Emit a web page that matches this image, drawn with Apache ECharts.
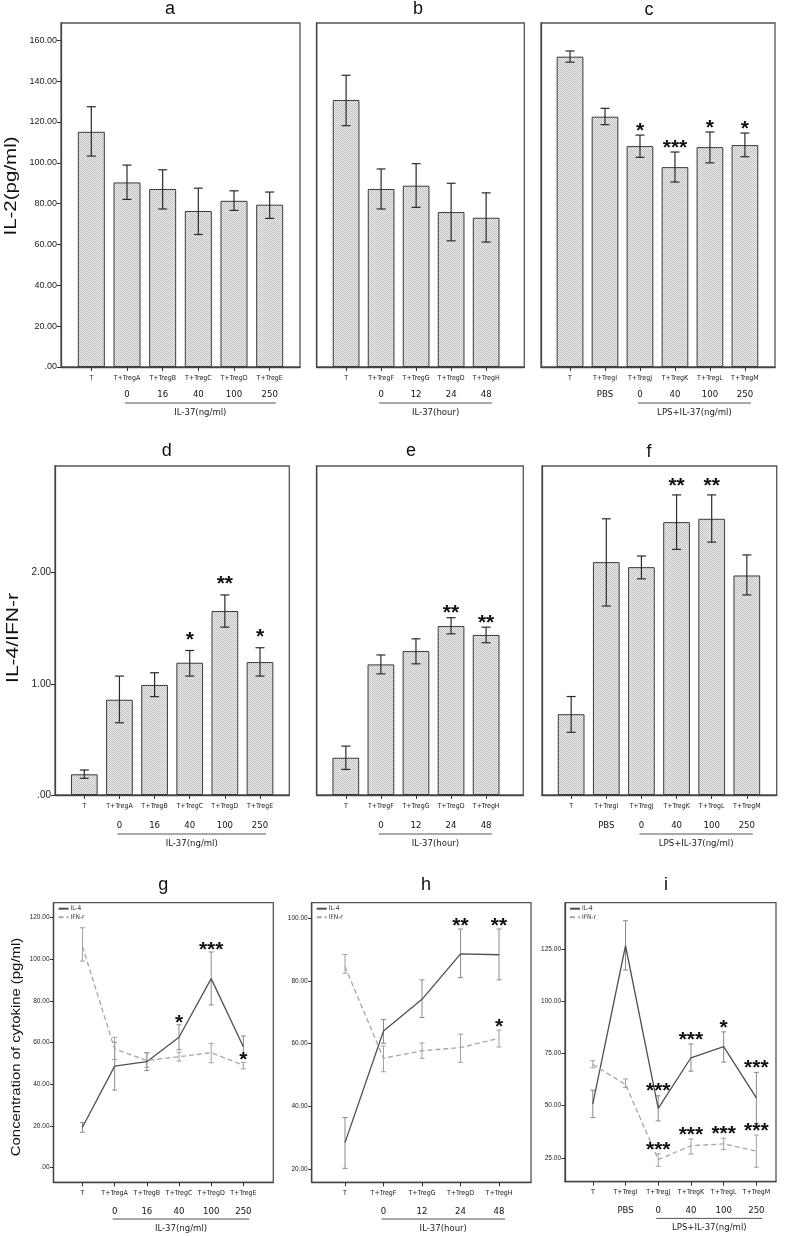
<!DOCTYPE html>
<html><head><meta charset="utf-8">
<script src="https://cdn.jsdelivr.net/npm/echarts@6/dist/echarts.min.js"></script>
<style>html,body{margin:0;padding:0;background:#fff}#c{width:787px;height:1236px}</style>
</head><body><div id="c"></div>
<script>
// ================= DATA =================
const catsAD = ['T','T+TregA','T+TregB','T+TregC','T+TregD','T+TregE'];
const subAD = ['','0','16','40','100','250'];
const catsBE = ['T','T+TregF','T+TregG','T+TregD','T+TregH'];
const subBE = ['','0','12','24','48'];
const catsCF = ['T','T+TregI','T+TregJ','T+TregK','T+TregL','T+TregM'];
const subCF = ['','PBS','0','40','100','250'];
const groupNg = 'IL-37(ng/ml)';
const groupHour = 'IL-37(hour)';
const groupLps = 'LPS+IL-37(ng/ml)';

// a: IL-2 (pg/ml)
const aMean = [115.2, 90.4, 87.2, 76.4, 81.4, 79.5];
const aHi   = [127.5, 98.9, 96.6, 87.6, 86.3, 85.7];
const aLo   = [103.3, 82.1, 77.4, 64.9, 76.7, 72.8];
const aSig  = ['','','','','',''];
// b
const bMean = [130.8, 87.2, 88.8, 75.9, 73.1];
const bHi   = [142.9, 97.0, 99.6, 90.0, 85.3];
const bLo   = [118.2, 77.4, 78.2, 61.8, 61.2];
const bSig  = ['','','','',''];
// c
const cMean = [152.0, 122.6, 108.2, 97.9, 107.7, 108.7];
const cHi   = [154.8, 126.7, 113.6, 105.3, 115.1, 114.6];
const cLo   = [149.3, 118.7, 102.7, 90.6, 100.0, 103.0];
const cSig  = ['','','*','***','*','*'];
// d: IL-4/IFN-r
const dMean = [0.186, 0.857, 0.99, 1.19, 1.655, 1.196];
const dHi   = [0.225, 1.07, 1.10, 1.30, 1.80, 1.325];
const dLo   = [0.15, 0.65, 0.885, 1.07, 1.51, 1.07];
const dSig  = ['','','','*','**','*'];
// e
const eMean = [0.335, 1.175, 1.295, 1.52, 1.44];
const eHi   = [0.44, 1.26, 1.405, 1.595, 1.51];
const eLo   = [0.23, 1.09, 1.18, 1.45, 1.37];
const eSig  = ['','','','**','**'];
// f
const fMean = [0.727, 2.095, 2.05, 2.455, 2.485, 1.975];
const fHi   = [0.886, 2.485, 2.15, 2.70, 2.70, 2.16];
const fLo   = [0.564, 1.70, 1.945, 2.21, 2.275, 1.80];
const fSig  = ['','','','**','**',''];
// g: cytokines
const gIL4   = [19.4, 48.7, 50.8, 62.5, 90.6, 58.0];
const gIL4Hi = [21.6, 60.1, 55.1, 68.5, 103.4, 63.1];
const gIL4Lo = [17.0, 37.2, 46.5, 56.5, 78.0, 52.9];
const gIL4Sig = ['','','','*','***',''];
const gIFN   = [106.0, 56.9, 51.4, 53.2, 55.1, 49.1];
const gIFNHi = [115.0, 62.5, 55.0, 55.3, 59.6, 50.5];
const gIFNLo = [99.0, 51.9, 48.1, 51.1, 50.3, 47.4];
const gIFNSig = ['','','','','','*'];
// h
const hIL4   = [28.4, 64.0, 74.1, 88.6, 88.3];
const hIL4Hi = [36.4, 67.7, 80.3, 96.5, 96.5];
const hIL4Lo = [20.2, 60.1, 68.3, 81.0, 80.3];
const hIL4Sig = ['','','','**','**'];
const hIFN   = [84.5, 55.3, 57.7, 58.7, 61.7];
const hIFNHi = [88.4, 59.2, 60.2, 63.0, 64.3];
const hIFNLo = [82.4, 51.0, 55.3, 54.0, 58.9];
const hIFNSig = ['','','','','*'];
// i
const iIL4   = [50.8, 126.5, 48.7, 72.9, 78.2, 53.7];
const iIL4Hi = [57.4, 138.5, 54.7, 79.5, 85.3, 65.9];
const iIL4Lo = [44.3, 114.9, 42.7, 66.5, 70.8, 41.5];
const iIL4Sig = ['','','***','***','*','***'];
const iIFN   = [69.7, 60.1, 24.2, 30.8, 31.7, 28.2];
const iIFNHi = [71.5, 62.8, 26.9, 34.1, 34.4, 35.9];
const iIFNLo = [68.1, 58.7, 21.0, 26.8, 29.0, 20.5];
const iIFNSig = ['','','***','***','***','***'];

// tick labels
const ticksIL2 = [0,20,40,60,80,100,120,140,160];
const ticksRatio = [0,1,2];
const ticksG = [0,20,40,60,80,100,120];
const ticksH = [20,40,60,80,100];
const ticksI = [25,50,75,100,125];

// ================= STYLE / LAYOUT =================
const NARROW = "'Liberation Sans Narrow','DejaVu Sans Condensed','Arial Narrow',sans-serif";
const SANS = "'Liberation Sans',Arial,Helvetica,sans-serif";
const rows = {
  1:{lab:7.5, sub:23, ul:36, nm:45.5},
  2:{lab:8, sub:26, ul:39, nm:48.3},
  3:{lab:7, sub:24, ul:36.7, nm:46}
};
function pat(){
  const c=document.createElement('canvas'); c.width=2; c.height=2;
  const x=c.getContext('2d');
  x.fillStyle='#ececec'; x.fillRect(0,0,2,2);
  x.fillStyle='#c0c0c0'; x.fillRect(0,0,1,1); x.fillRect(1,1,1,1);
  return c;
}
const fill = {image: pat(), repeat:'repeat'};

const panels = [
  {type:'bar', cats:catsAD, sub:subAD, grp:groupNg, g0:1, g1:5, mean:aMean, hi:aHi, lo:aLo, sig:aSig,
   box:[61,23,239,344], xr:[-0.85,5.85], yr:[0,168.5], yt:ticksIL2, yfs:9, row:1, bw:27, sg:9.5},
  {type:'bar', cats:catsBE, sub:subBE, grp:groupHour, g0:1, g1:4, mean:bMean, hi:bHi, lo:bLo, sig:bSig,
   box:[316.7,23,207.6,344], xr:[-0.84,5.09], yr:[0,168.5], yt:null, row:1, bw:26.7, sg:9.5},
  {type:'bar', cats:catsCF, sub:subCF, grp:groupLps, g0:2, g1:5, mean:cMean, hi:cHi, lo:cLo, sig:cSig,
   box:[541,23,234,344], xr:[-0.83,5.86], yr:[0,168.5], yt:null, row:1, bw:26.7, sg:9.5},
  {type:'bar', cats:catsAD, sub:subAD, grp:groupNg, g0:1, g1:5, mean:dMean, hi:dHi, lo:dLo, sig:dSig,
   box:[55,466,234.3,329], xr:[-0.834,5.834], yr:[0,2.96], yt:ticksRatio, yfs:10, row:2, bw:26.7, sg:16.5},
  {type:'bar', cats:catsBE, sub:subBE, grp:groupHour, g0:1, g1:4, mean:eMean, hi:eHi, lo:eLo, sig:eSig,
   box:[316.7,466,206.6,329], xr:[-0.83,5.06], yr:[0,2.96], yt:null, row:2, bw:26.7, sg:10},
  {type:'bar', cats:catsCF, sub:subCF, grp:groupLps, g0:2, g1:5, mean:fMean, hi:fHi, lo:fLo, sig:fSig,
   box:[542,466,234.7,329], xr:[-0.83,5.85], yr:[0,2.96], yt:null, row:2, bw:26.7, sg:14.5},
  {type:'line', cats:catsAD, sub:subAD, grp:groupNg, g0:1, g1:5,
   s1:[gIL4,gIL4Hi,gIL4Lo,gIL4Sig], s2:[gIFN,gIFNHi,gIFNLo,gIFNSig],
   box:[53.5,902.7,219.8,279.6], xr:[-0.9,5.93], yr:[-7,127], yt:ticksG, yfs:6.5, row:3, sg:7.5},
  {type:'line', cats:catsBE, sub:subBE, grp:groupHour, g0:1, g1:4,
   s1:[hIL4,hIL4Hi,hIL4Lo,hIL4Sig], s2:[hIFN,hIFNHi,hIFNLo,hIFNSig],
   box:[311.7,902.7,219.3,279.6], xr:[-0.865,4.83], yr:[15.76,104.9], yt:ticksH, yfs:6.5, row:3, sg:8.5},
  {type:'line', cats:catsCF, sub:subCF, grp:groupLps, g0:2, g1:5,
   s1:[iIL4,iIL4Hi,iIL4Lo,iIL4Sig], s2:[iIFN,iIFNHi,iIFNLo,iIFNSig],
   box:[565,902.7,211,279], xr:[-0.85,5.6], yr:[13.6,147.1], yt:ticksI, yfs:6.5, row:3, sg:10}
];

function errRender(color, cap, lw){
  return function(params, api){
    const x = api.value(0);
    const a = api.coord([x, api.value(2)]);
    const b = api.coord([x, api.value(1)]);
    const st = {stroke:color, lineWidth:lw};
    return {type:'group', children:[
      {type:'line', shape:{x1:a[0],y1:a[1],x2:b[0],y2:b[1]}, style:st},
      {type:'line', shape:{x1:a[0]-cap/2,y1:a[1],x2:a[0]+cap/2,y2:a[1]}, style:st},
      {type:'line', shape:{x1:b[0]-cap/2,y1:b[1],x2:b[0]+cap/2,y2:b[1]}, style:st}
    ]};
  };
}
function sigRender(sig, gap, fs){
  return function(params, api){
    const s = sig[params.dataIndex];
    if(!s) return null;
    const p = api.coord([api.value(0), api.value(1)]);
    return {type:'text', x:p[0], y:p[1]-gap+0.28*fs,
      style:{text:s, textAlign:'center', textVerticalAlign:'middle',
        font:'bold '+fs+'px '+SANS, fill:'#111'}};
  };
}
function groupRender(name, row){
  const r = rows[row];
  return function(params, api){
    const cs = params.coordSys;
    const bottom = cs.y + cs.height;
    const x0 = api.coord([api.value(0), 0])[0] - 2;
    const x1 = api.coord([api.value(1), 0])[0] + 6;
    return {type:'group', children:[
      {type:'line', shape:{x1:x0,y1:bottom+r.ul,x2:x1,y2:bottom+r.ul}, style:{stroke:'#555', lineWidth:1}},
      {type:'text', x:(x0+x1)/2, y:bottom+r.nm,
        style:{text:name, textAlign:'center', textVerticalAlign:'middle', font:'9.5px '+NARROW, fill:'#222'}}
    ]};
  };
}
const yFmt = v => v === 0 ? '.00' : v.toFixed(2);

const grid=[], xAxis=[], yAxis=[], series=[], legend=[];
panels.forEach((p, k) => {
  const r = rows[p.row];
  const idx = p.cats.map((_, i) => i);
  const subIdx = p.sub.map((s, i) => s ? i : -1).filter(i => i >= 0);
  grid.push({left:p.box[0], top:p.box[1], width:p.box[2], height:p.box[3],
    show:true, borderColor:'#555', borderWidth:1.3, backgroundColor:'transparent'});
  xAxis.push({gridIndex:k, type:'value', min:p.xr[0], max:p.xr[1], position:'bottom',
    axisLine:{show:true, onZero:false, lineStyle:{color:'#444', width:1.3}},
    axisTick:{show:true, customValues:idx, length:4, lineStyle:{color:'#333', width:1}},
    axisLabel:{customValues:idx, formatter:v => p.cats[Math.round(v)], margin:r.lab,
      fontSize:7, fontFamily:NARROW, color:'#222'},
    splitLine:{show:false}});
  xAxis.push({gridIndex:k, type:'value', min:p.xr[0], max:p.xr[1], position:'bottom',
    axisLine:{show:false, onZero:false}, axisTick:{show:false},
    axisLabel:{customValues:subIdx, formatter:v => p.sub[Math.round(v)], margin:r.sub,
      fontSize:9.5, fontFamily:NARROW, color:'#111'},
    splitLine:{show:false}});
  const showY = !!p.yt;
  yAxis.push({gridIndex:k, type:'value', min:p.yr[0], max:p.yr[1], position:'left',
    axisLine:{show:true, onZero:false, lineStyle:{color:'#444', width:1.3}},
    axisTick:{show:showY, customValues:p.yt || [], length:p.type==='bar'?4:3.5, lineStyle:{color:'#333'}},
    axisLabel:{show:showY, customValues:p.yt || [], formatter:yFmt, margin:4,
      fontSize:p.yfs || 8, fontFamily:SANS, color:'#222'},
    splitLine:{show:false}});
  const xi = 2*k, yi = k;
  if (p.type === 'bar') {
    series.push({type:'bar', xAxisIndex:xi, yAxisIndex:yi, silent:true, barWidth:p.bw,
      data:p.mean.map((v,i) => [i, v]),
      itemStyle:{color:fill, borderColor:'#3a3a3a', borderWidth:1}});
    series.push({type:'custom', xAxisIndex:xi, yAxisIndex:yi, silent:true, z:5,
      renderItem:errRender('#2a2a2a', 9, 1.2),
      data:p.mean.map((v,i) => [i, p.lo[i], p.hi[i]])});
    series.push({type:'custom', xAxisIndex:xi, yAxisIndex:yi, silent:true, z:6,
      renderItem:sigRender(p.sig, p.sg, 21),
      data:p.mean.map((v,i) => [i, p.hi[i]])});
  } else {
    const defs = [
      {s:p.s1, name:'IL-4', ls:{color:'#505050', width:1.3, type:'solid'}, ec:'#8a8a8a'},
      {s:p.s2, name:'IFN-r', ls:{color:'#a6a6a6', width:1.3, type:[5,3]}, ec:'#a0a0a0'}
    ];
    defs.forEach(d => {
      series.push({type:'custom', xAxisIndex:xi, yAxisIndex:yi, silent:true, z:2,
        renderItem:errRender(d.ec, 5, 1),
        data:d.s[0].map((v,i) => [i, d.s[2][i], d.s[1][i]])});
      series.push({type:'line', name:d.name, xAxisIndex:xi, yAxisIndex:yi, silent:true, z:3,
        symbol:'none', lineStyle:d.ls, itemStyle:{color:d.ls.color},
        data:d.s[0].map((v,i) => [i, v])});
      series.push({type:'custom', xAxisIndex:xi, yAxisIndex:yi, silent:true, z:6,
        renderItem:sigRender(d.s[3], p.sg, 21),
        data:d.s[0].map((v,i) => [i, d.s[1][i]])});
    });
    legend.push({data:['IL-4','IFN-r'], left:p.box[0]+4, top:p.box[1]+2.5, orient:'vertical',
      itemWidth:10, itemHeight:7, itemGap:1.5, padding:0, selectedMode:false,
      itemStyle:{opacity:0},
      textStyle:{fontSize:6.5, fontFamily:NARROW, color:'#333', padding:[0,0,0,-3]}});
  }
  series.push({type:'custom', xAxisIndex:xi, yAxisIndex:yi, silent:true, clip:false,
    renderItem:groupRender(p.grp, p.row), data:[[p.g0, p.g1]]});
});

const titles = [['a',170,9.5],['b',418,9],['c',649,10],['d',166.7,451.5],['e',411,451.5],
  ['f',649,452],['g',163.3,885],['h',426,885],['i',666,885]];
const graphic = titles.map(t => ({type:'text', x:t[1], y:t[2], silent:true,
  style:{text:t[0], textAlign:'center', textVerticalAlign:'middle', font:'18px '+SANS, fill:'#111'}}));
graphic.push({type:'text', x:11.5, y:186, rotation:Math.PI/2, scaleY:0.82, silent:true,
  style:{text:'IL-2(pg/ml)', textAlign:'center', textVerticalAlign:'middle', font:'20.5px '+SANS, fill:'#111'}});
graphic.push({type:'text', x:13, y:638, rotation:Math.PI/2, scaleY:0.82, silent:true,
  style:{text:'IL-4/IFN-r', textAlign:'center', textVerticalAlign:'middle', font:'21px '+SANS, fill:'#111'}});
graphic.push({type:'text', x:16, y:1047, rotation:Math.PI/2, scaleX:0.93, scaleY:0.85, silent:true,
  style:{text:'Concentration of cytokine (pg/ml)', textAlign:'center', textVerticalAlign:'middle', font:'16px '+SANS, fill:'#111'}});

const chart = echarts.init(document.getElementById('c'), null, {renderer:'canvas'});
chart.setOption({animation:false, backgroundColor:'#fff', grid, xAxis, yAxis, series, legend, graphic});
</script></body></html>
